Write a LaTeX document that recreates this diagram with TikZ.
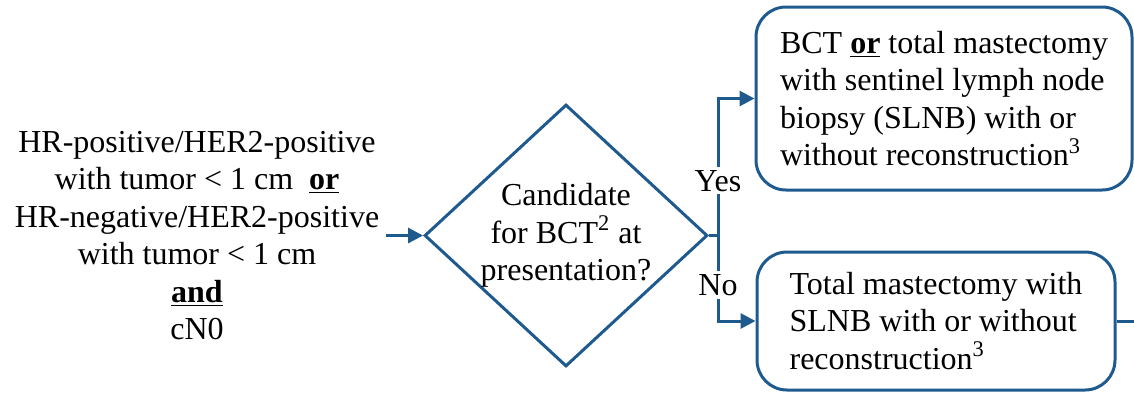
\documentclass[tikz,border=0pt]{standalone}
\usepackage{fontspec}
\setmainfont{Liberation Serif}
\usetikzlibrary{arrows.meta,positioning,shapes.geometric}
\definecolor{flowblue}{HTML}{1F5A8F}

\begin{document}
\begin{tikzpicture}[
    x=1pt, y=1pt,
    every node/.style={font=\rmfamily\fontsize{16}{18.75}\selectfont, text=black},
    line/.style={flowblue, line width=1.5pt},
    arr/.style={line, -{Triangle[length=7.5pt,width=7.5pt]}},
    outcome/.style={draw=flowblue, line width=1.5pt, rounded corners=15pt,
                    align=left, inner sep=0pt},
    decision/.style={draw=flowblue, line width=1.5pt, diamond, aspect=1.08,
                     inner sep=0pt, align=center},
    lbl/.style={fill=white, text=black, inner sep=1.5pt}]
\useasboundingbox (0,0) rectangle (567,-196.5);
\node (cond) [align=center] at (98.5,-117.75)
      {HR-positive/HER2-positive\\
       with tumor < 1 cm\ \ \underline{\textbf{or}}\\
       HR-negative/HER2-positive\\
       with tumor < 1 cm\\
       \underline{\textbf{and}}\\
       cN0};
\node (cand) [decision] at (283,-117.75)
      {Candidate\\for BCT\textsuperscript{2} at\\presentation?};
\node (bct) [outcome, minimum width=188pt, minimum height=91.5pt] at (472,-49.25)
      {BCT \underline{\textbf{or}} total mastectomy\\
       with sentinel lymph node\\
       biopsy (SLNB) with or\\
       without reconstruction\textsuperscript{3}};
\node (tm) [outcome, minimum width=179pt, minimum height=69pt] at (468,-160.5)
      {Total mastectomy with\\
       SLNB with or without\\
       reconstruction\textsuperscript{3}};
\coordinate (split) at (359,-117.75);
\coordinate (edge) at (567,-160.5);
\draw[arr] (cand.west -| cond.east) -- (cand.west);
\draw[line] (cand.east) -- (split);
\draw[arr] (split) |- node[lbl,pos=0.2] {Yes} (bct.west);
\draw[arr] (split) |- node[lbl,pos=0.29] {No} (tm.west);
\draw[line] (tm.east) -- (edge);
\end{tikzpicture}
\end{document}
